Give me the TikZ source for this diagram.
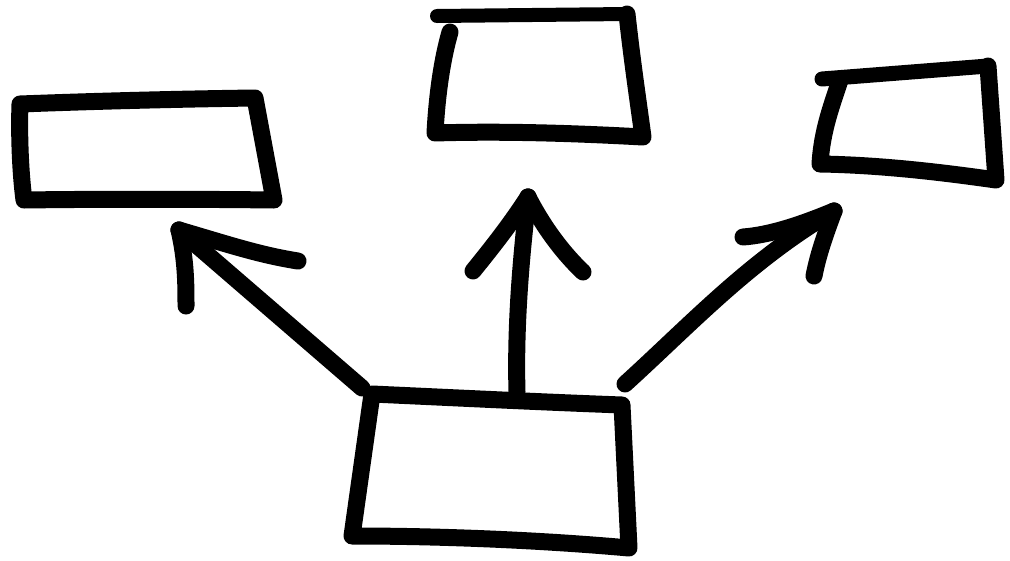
\documentclass[tikz,border=0pt]{standalone}
\begin{document}
\begin{tikzpicture}[x=1pt,y=-1pt,
  ink/.style={line width=17pt,line cap=round,line join=round,black}]
\useasboundingbox (0,0) rectangle (1010,560);
% boxes
\draw[ink] (20,104) .. controls (100,101) and (180,99) .. (255,98) -- (274,200) .. controls (190,199) and (100,199) .. (24,200) .. controls (20,170) and (19,130) .. (20,104);
\draw[ink,line width=14pt] (437,16) -- (627,14);
\draw[ink] (627,14) .. controls (632,60) and (638,100) .. (643,137) .. controls (570,133) and (500,131) .. (435,133) .. controls (437,95) and (442,60) .. (450,32);
\draw[ink,line width=15pt] (822,79) -- (988,66);
\draw[ink] (988,66) -- (996,180) .. controls (940,172) and (880,165) .. (820,164) .. controls (822,130) and (832,105) .. (840,80);
\draw[ink] (372,394) .. controls (460,398) and (540,402) .. (622,405) -- (629,548) .. controls (540,540) and (440,536) .. (352,536) -- cycle;
% arrow ends
\coordinate (lt) at (179,230);
\coordinate (ls) at (362,388);
\coordinate (mt) at (528,197);
\coordinate (ms) at (517,392);
\coordinate (rt) at (834,211);
\coordinate (rs) at (625,384);
% arrows
\draw[ink] (ls) -- (lt);
\draw[ink] (lt) .. controls (230,245) and (260,255) .. (298,261);
\draw[ink] (lt) .. controls (186,260) and (186,285) .. (186,306);
\draw[ink] (ms) .. controls (515,320) and (522,250) .. (mt);
\draw[ink] (mt) .. controls (510,225) and (490,250) .. (473,271);
\draw[ink] (mt) .. controls (545,230) and (565,255) .. (583,272);
\draw[ink] (rs) .. controls (690,325) and (750,260) .. (rt);
\draw[ink] (rt) .. controls (800,225) and (770,235) .. (743,237);
\draw[ink] (rt) .. controls (825,235) and (818,255) .. (814,276);
\end{tikzpicture}
\end{document}
